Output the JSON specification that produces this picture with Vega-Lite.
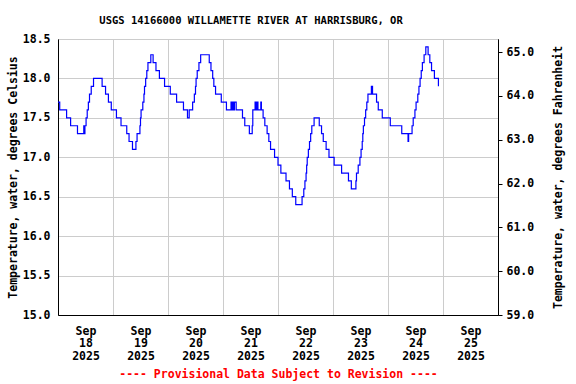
{
  "$schema": "https://vega.github.io/schema/vega-lite/v6.json",
  "autosize": {"type": "none"},
  "padding": {"left": 58, "top": 39, "right": 78, "bottom": 69},
  "width": 440,
  "height": 276,
  "background": "white",
  "title": {
    "text": "USGS 14166000 WILLAMETTE RIVER AT HARRISBURG, OR",
    "font": "DejaVu Sans Mono",
    "fontSize": 10.5,
    "fontWeight": "bold",
    "color": "black",
    "anchor": "start",
    "dx": 92,
    "offset": 7
  },
  "config": {
    "view": {"stroke": "black", "strokeWidth": 1},
    "axis": {
      "labelFont": "DejaVu Sans Mono",
      "labelFontWeight": "bold",
      "labelFontSize": 11.5,
      "labelColor": "black",
      "titleFont": "DejaVu Sans Mono",
      "titleFontWeight": "bold",
      "titleFontSize": 11.5,
      "titleColor": "black",
      "domainColor": "black",
      "domainWidth": 1,
      "gridColor": "#cccccc",
      "gridWidth": 1,
      "tickColor": "black"
    }
  },
  "data": {
    "values": [
      {"t": "2025-09-18T00:00", "v": 17.7},
      {"t": "2025-09-18T00:45", "v": 17.6},
      {"t": "2025-09-18T03:45", "v": 17.5},
      {"t": "2025-09-18T05:30", "v": 17.4},
      {"t": "2025-09-18T08:30", "v": 17.3},
      {"t": "2025-09-18T11:15", "v": 17.4},
      {"t": "2025-09-18T11:30", "v": 17.3},
      {"t": "2025-09-18T11:45", "v": 17.4},
      {"t": "2025-09-18T12:15", "v": 17.5},
      {"t": "2025-09-18T12:45", "v": 17.6},
      {"t": "2025-09-18T13:15", "v": 17.7},
      {"t": "2025-09-18T13:45", "v": 17.8},
      {"t": "2025-09-18T14:30", "v": 17.9},
      {"t": "2025-09-18T15:30", "v": 18.0},
      {"t": "2025-09-18T19:15", "v": 17.9},
      {"t": "2025-09-18T20:45", "v": 17.8},
      {"t": "2025-09-18T22:00", "v": 17.7},
      {"t": "2025-09-18T23:15", "v": 17.6},
      {"t": "2025-09-19T01:30", "v": 17.5},
      {"t": "2025-09-19T03:30", "v": 17.4},
      {"t": "2025-09-19T06:00", "v": 17.3},
      {"t": "2025-09-19T07:00", "v": 17.2},
      {"t": "2025-09-19T08:30", "v": 17.1},
      {"t": "2025-09-19T10:00", "v": 17.2},
      {"t": "2025-09-19T10:30", "v": 17.3},
      {"t": "2025-09-19T11:45", "v": 17.4},
      {"t": "2025-09-19T12:00", "v": 17.5},
      {"t": "2025-09-19T12:15", "v": 17.6},
      {"t": "2025-09-19T13:00", "v": 17.7},
      {"t": "2025-09-19T13:30", "v": 17.8},
      {"t": "2025-09-19T13:45", "v": 17.9},
      {"t": "2025-09-19T14:15", "v": 18.0},
      {"t": "2025-09-19T14:45", "v": 18.1},
      {"t": "2025-09-19T15:15", "v": 18.2},
      {"t": "2025-09-19T16:30", "v": 18.3},
      {"t": "2025-09-19T17:30", "v": 18.2},
      {"t": "2025-09-19T18:45", "v": 18.1},
      {"t": "2025-09-19T20:15", "v": 18.0},
      {"t": "2025-09-19T22:30", "v": 17.9},
      {"t": "2025-09-20T01:00", "v": 17.8},
      {"t": "2025-09-20T03:45", "v": 17.7},
      {"t": "2025-09-20T06:45", "v": 17.6},
      {"t": "2025-09-20T08:30", "v": 17.5},
      {"t": "2025-09-20T09:15", "v": 17.6},
      {"t": "2025-09-20T10:45", "v": 17.7},
      {"t": "2025-09-20T11:30", "v": 17.8},
      {"t": "2025-09-20T12:00", "v": 17.9},
      {"t": "2025-09-20T12:15", "v": 18.0},
      {"t": "2025-09-20T12:45", "v": 18.1},
      {"t": "2025-09-20T13:30", "v": 18.2},
      {"t": "2025-09-20T14:15", "v": 18.3},
      {"t": "2025-09-20T18:00", "v": 18.2},
      {"t": "2025-09-20T18:45", "v": 18.1},
      {"t": "2025-09-20T19:30", "v": 18.0},
      {"t": "2025-09-20T20:00", "v": 17.9},
      {"t": "2025-09-20T20:45", "v": 17.8},
      {"t": "2025-09-20T23:15", "v": 17.7},
      {"t": "2025-09-21T01:30", "v": 17.6},
      {"t": "2025-09-21T03:30", "v": 17.7},
      {"t": "2025-09-21T03:45", "v": 17.6},
      {"t": "2025-09-21T04:00", "v": 17.7},
      {"t": "2025-09-21T04:15", "v": 17.6},
      {"t": "2025-09-21T04:30", "v": 17.7},
      {"t": "2025-09-21T04:45", "v": 17.6},
      {"t": "2025-09-21T05:00", "v": 17.7},
      {"t": "2025-09-21T05:45", "v": 17.6},
      {"t": "2025-09-21T08:30", "v": 17.5},
      {"t": "2025-09-21T09:30", "v": 17.4},
      {"t": "2025-09-21T11:30", "v": 17.3},
      {"t": "2025-09-21T12:45", "v": 17.4},
      {"t": "2025-09-21T13:00", "v": 17.6},
      {"t": "2025-09-21T14:00", "v": 17.7},
      {"t": "2025-09-21T14:15", "v": 17.6},
      {"t": "2025-09-21T14:30", "v": 17.7},
      {"t": "2025-09-21T14:45", "v": 17.6},
      {"t": "2025-09-21T15:00", "v": 17.7},
      {"t": "2025-09-21T15:15", "v": 17.6},
      {"t": "2025-09-21T16:30", "v": 17.7},
      {"t": "2025-09-21T16:45", "v": 17.6},
      {"t": "2025-09-21T17:30", "v": 17.5},
      {"t": "2025-09-21T18:15", "v": 17.4},
      {"t": "2025-09-21T19:15", "v": 17.3},
      {"t": "2025-09-21T20:00", "v": 17.2},
      {"t": "2025-09-21T20:45", "v": 17.1},
      {"t": "2025-09-21T22:30", "v": 17.0},
      {"t": "2025-09-22T00:00", "v": 16.9},
      {"t": "2025-09-22T01:15", "v": 16.8},
      {"t": "2025-09-22T03:30", "v": 16.7},
      {"t": "2025-09-22T05:00", "v": 16.6},
      {"t": "2025-09-22T06:15", "v": 16.5},
      {"t": "2025-09-22T07:45", "v": 16.4},
      {"t": "2025-09-22T10:30", "v": 16.5},
      {"t": "2025-09-22T11:15", "v": 16.6},
      {"t": "2025-09-22T11:45", "v": 16.7},
      {"t": "2025-09-22T12:15", "v": 16.8},
      {"t": "2025-09-22T12:30", "v": 16.9},
      {"t": "2025-09-22T12:45", "v": 17.0},
      {"t": "2025-09-22T13:15", "v": 17.1},
      {"t": "2025-09-22T13:45", "v": 17.2},
      {"t": "2025-09-22T14:15", "v": 17.3},
      {"t": "2025-09-22T14:45", "v": 17.4},
      {"t": "2025-09-22T15:45", "v": 17.5},
      {"t": "2025-09-22T18:00", "v": 17.4},
      {"t": "2025-09-22T19:00", "v": 17.3},
      {"t": "2025-09-22T19:45", "v": 17.2},
      {"t": "2025-09-22T21:00", "v": 17.1},
      {"t": "2025-09-22T22:15", "v": 17.0},
      {"t": "2025-09-23T00:30", "v": 16.9},
      {"t": "2025-09-23T03:45", "v": 16.8},
      {"t": "2025-09-23T06:45", "v": 16.7},
      {"t": "2025-09-23T08:00", "v": 16.6},
      {"t": "2025-09-23T10:00", "v": 16.7},
      {"t": "2025-09-23T10:15", "v": 16.8},
      {"t": "2025-09-23T11:00", "v": 16.9},
      {"t": "2025-09-23T11:45", "v": 17.0},
      {"t": "2025-09-23T12:15", "v": 17.1},
      {"t": "2025-09-23T12:45", "v": 17.2},
      {"t": "2025-09-23T13:00", "v": 17.3},
      {"t": "2025-09-23T13:15", "v": 17.4},
      {"t": "2025-09-23T13:45", "v": 17.5},
      {"t": "2025-09-23T14:15", "v": 17.6},
      {"t": "2025-09-23T14:45", "v": 17.7},
      {"t": "2025-09-23T15:15", "v": 17.8},
      {"t": "2025-09-23T16:45", "v": 17.9},
      {"t": "2025-09-23T17:15", "v": 17.8},
      {"t": "2025-09-23T19:00", "v": 17.7},
      {"t": "2025-09-23T19:45", "v": 17.6},
      {"t": "2025-09-23T21:30", "v": 17.5},
      {"t": "2025-09-24T01:00", "v": 17.4},
      {"t": "2025-09-24T06:00", "v": 17.3},
      {"t": "2025-09-24T08:45", "v": 17.2},
      {"t": "2025-09-24T09:00", "v": 17.3},
      {"t": "2025-09-24T10:30", "v": 17.4},
      {"t": "2025-09-24T11:00", "v": 17.5},
      {"t": "2025-09-24T11:45", "v": 17.6},
      {"t": "2025-09-24T12:15", "v": 17.7},
      {"t": "2025-09-24T13:00", "v": 17.8},
      {"t": "2025-09-24T13:30", "v": 17.9},
      {"t": "2025-09-24T14:00", "v": 18.0},
      {"t": "2025-09-24T14:30", "v": 18.1},
      {"t": "2025-09-24T15:00", "v": 18.2},
      {"t": "2025-09-24T15:45", "v": 18.3},
      {"t": "2025-09-24T16:30", "v": 18.4},
      {"t": "2025-09-24T17:30", "v": 18.3},
      {"t": "2025-09-24T18:15", "v": 18.2},
      {"t": "2025-09-24T19:00", "v": 18.1},
      {"t": "2025-09-24T20:15", "v": 18.0},
      {"t": "2025-09-24T22:00", "v": 17.9}
    ]
  },
  "encoding": {
    "x": {
      "field": "t",
      "type": "temporal",
      "scale": {"domain": [{"year": 2025, "month": 9, "date": 18}, {"year": 2025, "month": 9, "date": 26}]},
      "axis": {
        "values": [
          {"year": 2025, "month": 9, "date": 18},
          {"year": 2025, "month": 9, "date": 19},
          {"year": 2025, "month": 9, "date": 20},
          {"year": 2025, "month": 9, "date": 21},
          {"year": 2025, "month": 9, "date": 22},
          {"year": 2025, "month": 9, "date": 23},
          {"year": 2025, "month": 9, "date": 24},
          {"year": 2025, "month": 9, "date": 25}
        ],
        "labelExpr": "[timeFormat(datum.value, '%b'), timeFormat(datum.value, '%d'), timeFormat(datum.value, '%Y')]",
        "labelOffset": 27.5,
        "labelAlign": "center",
        "labelBaseline": "top",
        "labelLineHeight": 12.5,
        "labelFlush": false,
        "labelOverlap": false,
        "labelPadding": 10,
        "ticks": false,
        "grid": true,
        "title": "---- Provisional Data Subject to Revision ----",
        "titleColor": "#ff0000",
        "titlePadding": 7
      }
    }
  },
  "layer": [
    {
      "mark": {"type": "line", "interpolate": "step-after", "color": "#0000ff", "strokeWidth": 1.2},
      "encoding": {
        "y": {
          "field": "v",
          "type": "quantitative",
          "scale": {"domain": [15, 18.5], "nice": false, "zero": false},
          "axis": {
            "values": [15, 15.5, 16, 16.5, 17, 17.5, 18, 18.5],
            "format": ".1f",
            "grid": true,
            "ticks": false,
            "labelPadding": 8,
            "title": "Temperature, water, degrees Celsius",
            "titlePadding": 4
          }
        }
      }
    },
    {
      "mark": {"type": "line", "strokeOpacity": 0},
      "encoding": {
        "y": {
          "field": "v",
          "type": "quantitative",
          "scale": {"domain": [15, 18.5], "nice": false, "zero": false},
          "axis": {
            "orient": "right",
            "values": [15, 15.555556, 16.111111, 16.666667, 17.222222, 17.777778, 18.333333],
            "labelExpr": "format(datum.value * 9 / 5 + 32, '.1f')",
            "grid": false,
            "ticks": true,
            "tickSize": 4,
            "labelPadding": 4,
            "title": "Temperature, water, degrees Fahrenheit",
            "titleAngle": 270,
            "titlePadding": 30
          }
        }
      }
    }
  ],
  "resolve": {"scale": {"y": "independent"}, "axis": {"y": "independent"}}
}
